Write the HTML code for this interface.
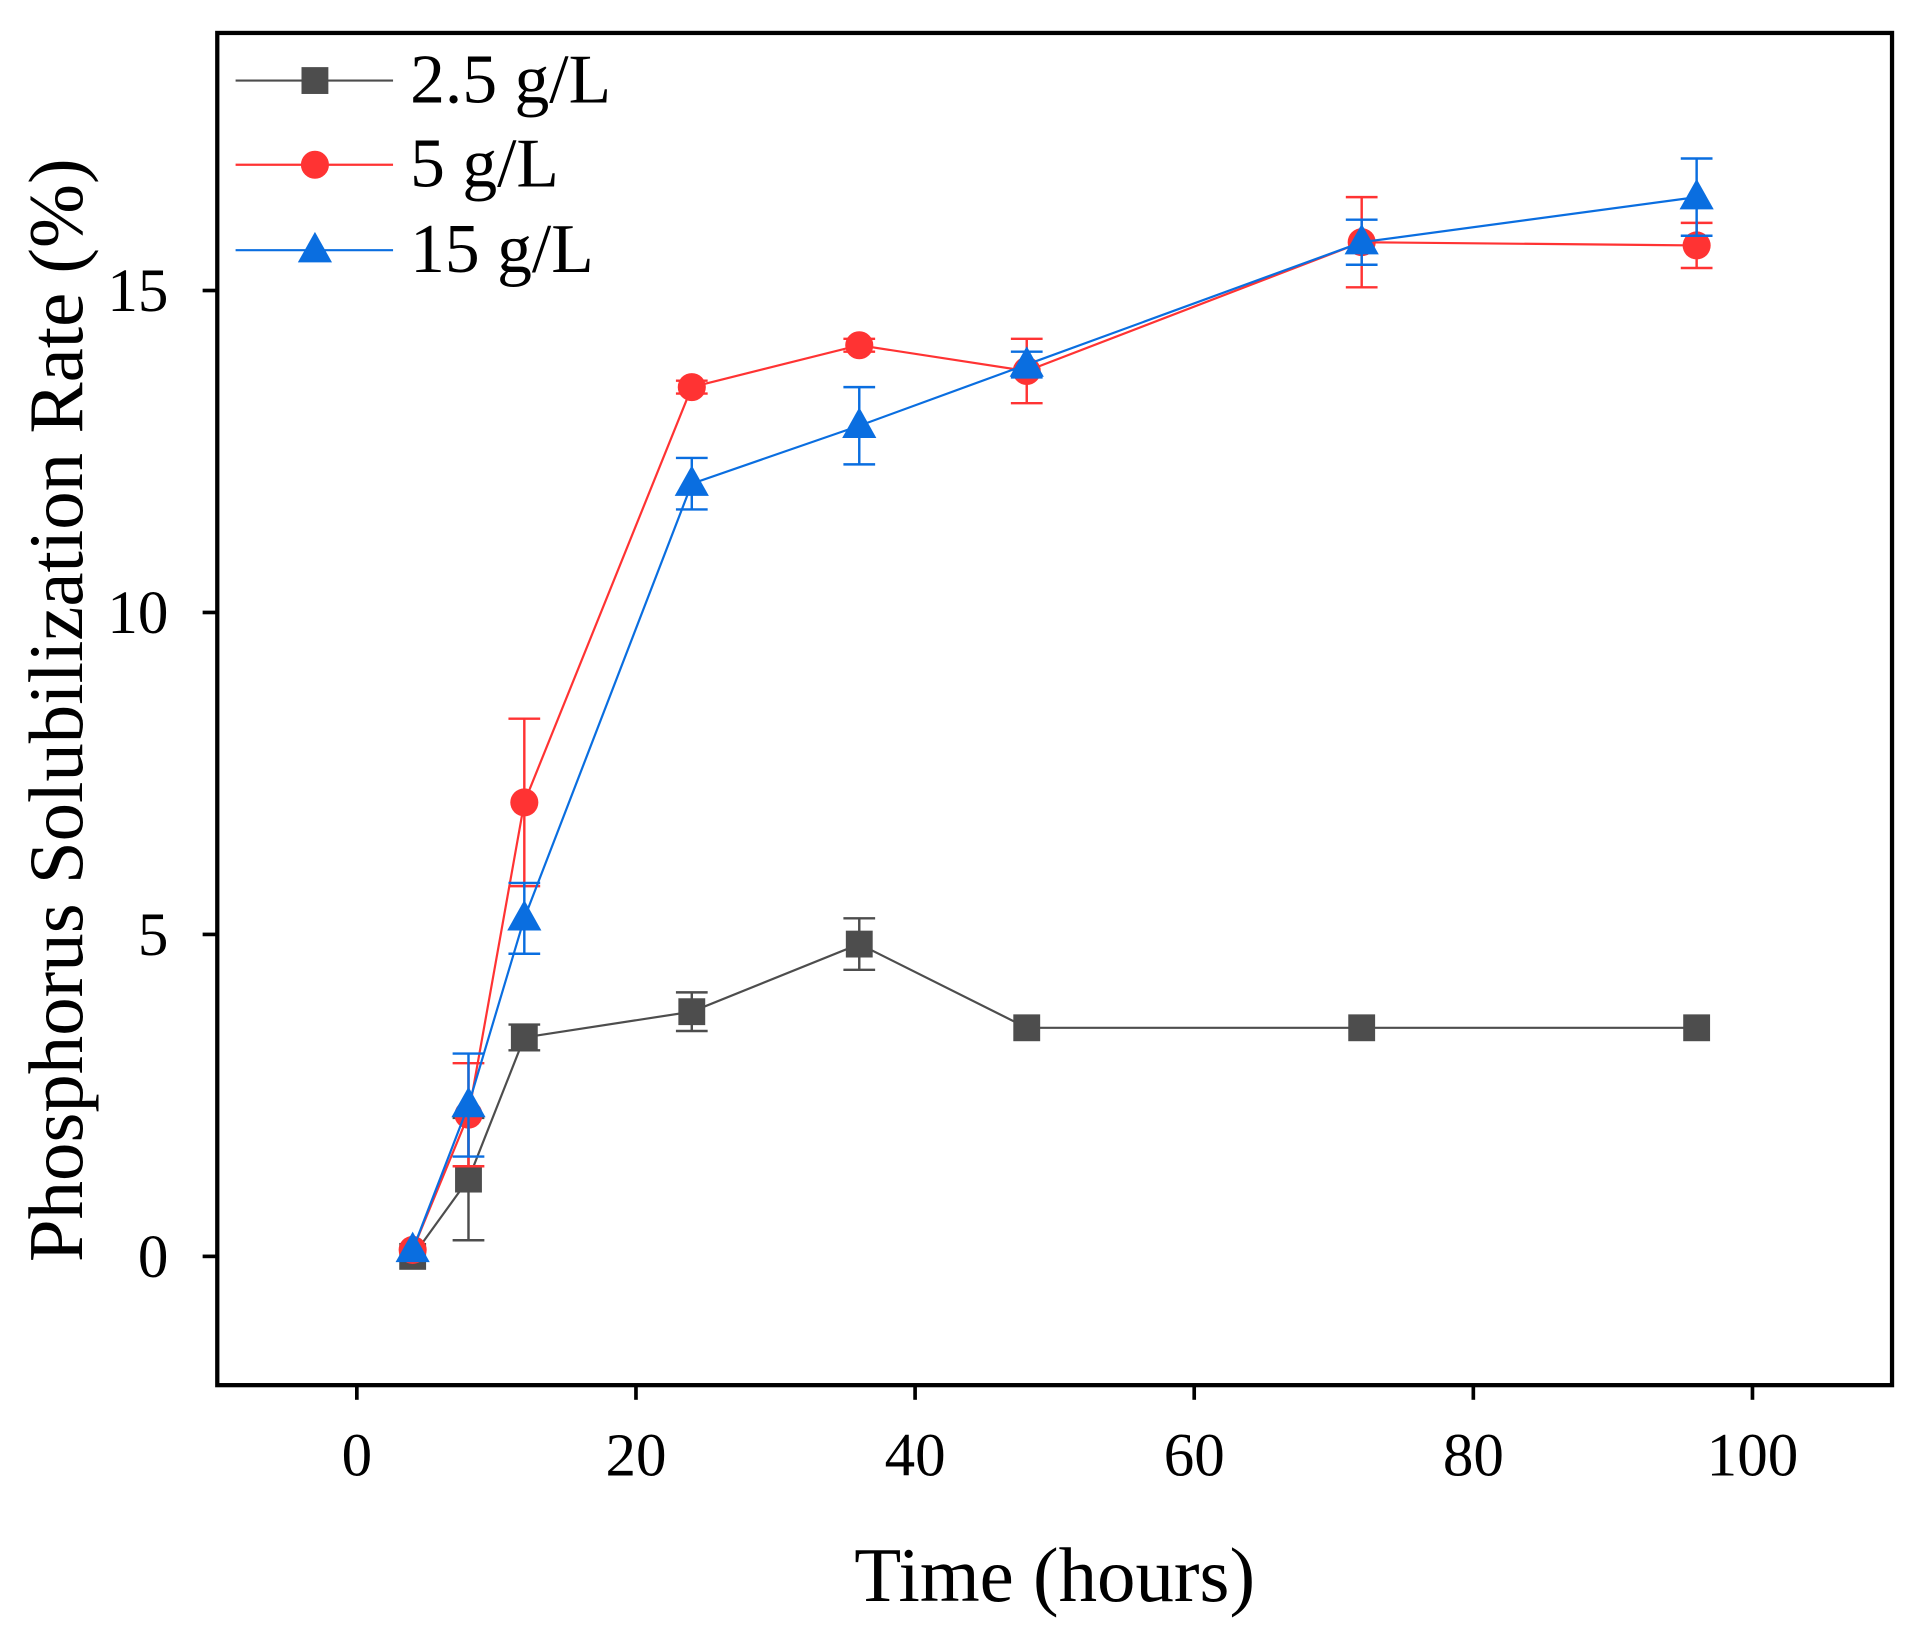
<!DOCTYPE html>
<html><head><meta charset="utf-8"><style>
html,body{margin:0;padding:0;background:#fff}
svg{display:block}
text{font-family:"Liberation Serif",serif;fill:#000}
</style></head><body>
<svg id="chart" width="1914" height="1639" viewBox="0 0 1568 1343" preserveAspectRatio="none" xmlns="http://www.w3.org/2000/svg">
<g id="g"></g>
</svg>
<script>
const times=[4,8,12,24,36,48,72,96];
const s25=[0,1.2,3.4,3.8,4.85,3.55,3.55,3.55];
const e25=[0,0.95,0.2,0.3,0.4,0,0,0];
const s5=[0.1,2.2,7.05,13.5,14.15,13.75,15.75,15.7];
const e5=[0,0.8,1.3,0.1,0.1,0.5,0.7,0.35];
const s15=[0.1,2.35,5.25,12.0,12.9,13.85,15.75,16.45];
const e15=[0,0.8,0.55,0.4,0.6,0.2,0.35,0.6];
const xTicks=[0,20,40,60,80,100];
const yTicks=[0,5,10,15];
const legendLabels=["2.5 g/L","5 g/L","15 g/L"];

const L=178,R=1550,T=27,B=1135;
const xs=v=>L+(v+10)/120*(R-L);
const ys=v=>B-(v+2)/21*(B-T);
const NS="http://www.w3.org/2000/svg";
const g=document.getElementById('g');
function mk(tag,attrs,parent){const e=document.createElementNS(NS,tag);for(const k in attrs)e.setAttribute(k,attrs[k]);(parent||g).appendChild(e);return e;}

const frame=mk('rect',{x:L,y:T,width:R-L,height:B-T,fill:'none',stroke:'#000','stroke-width':3.5});



xTicks.forEach(t=>{
  const ln=mk('line',{x1:xs(t),x2:xs(t),y1:B,y2:B+12,stroke:'#000','stroke-width':3});
  
  
  const tx=mk('text',{x:xs(t),y:B+74,'text-anchor':'middle','font-size':50});
  tx.textContent=t;
  
  
});
yTicks.forEach(t=>{
  const ln=mk('line',{x1:L-12,x2:L,y1:ys(t),y2:ys(t),stroke:'#000','stroke-width':3});
  
  
  const tx=mk('text',{x:L-40,y:ys(t)+17,'text-anchor':'end','font-size':50});
  tx.textContent=t;
  
  
});
const xt=mk('text',{x:864,y:1312,'text-anchor':'middle','font-size':63});
xt.textContent='Time (hours)';


const yt=mk('text',{x:0,y:0,'text-anchor':'middle','font-size':63,transform:'translate(67,582) rotate(-90)'});
yt.textContent='Phosphorus Solubilization Rate (%)';



function marker(kind,x,y,col,parent){
  let m;
  if(kind==='sq') m=mk('rect',{x:x-11,y:y-11,width:22,height:22,fill:col},parent);
  else if(kind==='ci') m=mk('circle',{cx:x,cy:y,r:11.5,fill:col},parent);
  else m=mk('polygon',{points:`${x},${y-15} ${x+14},${y+10} ${x-14},${y+10}`,fill:col},parent);
  return m;
}
const series=[
  {name:'series-2-5',vals:s25,errs:e25,col:'#4d4d4d',kind:'sq'},
  {name:'series-5',vals:s5,errs:e5,col:'#ff3333',kind:'ci'},
  {name:'series-15',vals:s15,errs:e15,col:'#0a6ee0',kind:'tr'}
];
series.forEach((s,si)=>{
  const sg=mk('g',{});
  
  
  const pl=mk('polyline',{points:times.map((t,i)=>xs(t)+','+ys(s.vals[i])).join(' '),fill:'none',stroke:s.col,'stroke-width':1.8},sg);
  
  
  times.forEach((t,i)=>{
    if(s.errs[i]>0){
      const x=xs(t),y1=ys(s.vals[i]-s.errs[i]),y2=ys(s.vals[i]+s.errs[i]);
      const eb=mk('path',{d:`M${x},${y1}V${y2}M${x-13},${y1}H${x+13}M${x-13},${y2}H${x+13}`,stroke:s.col,'stroke-width':2,fill:'none'},sg);
      
      
    }
  });
  times.forEach((t,i)=>{
    const m=marker(s.kind,xs(t),ys(s.vals[i]),s.col,sg);
    
    
  });
  const ly=[66,135,205][si];
  const lg=mk('g',{});
  
  
  mk('line',{x1:193,x2:322,y1:ly,y2:ly,stroke:s.col,'stroke-width':1.8},lg);
  marker(s.kind,258,ly,s.col,lg);
  const lt=mk('text',{x:336,y:ly+18,'font-size':57},lg);
  lt.textContent=legendLabels[si];
});
</script>
</body></html>
